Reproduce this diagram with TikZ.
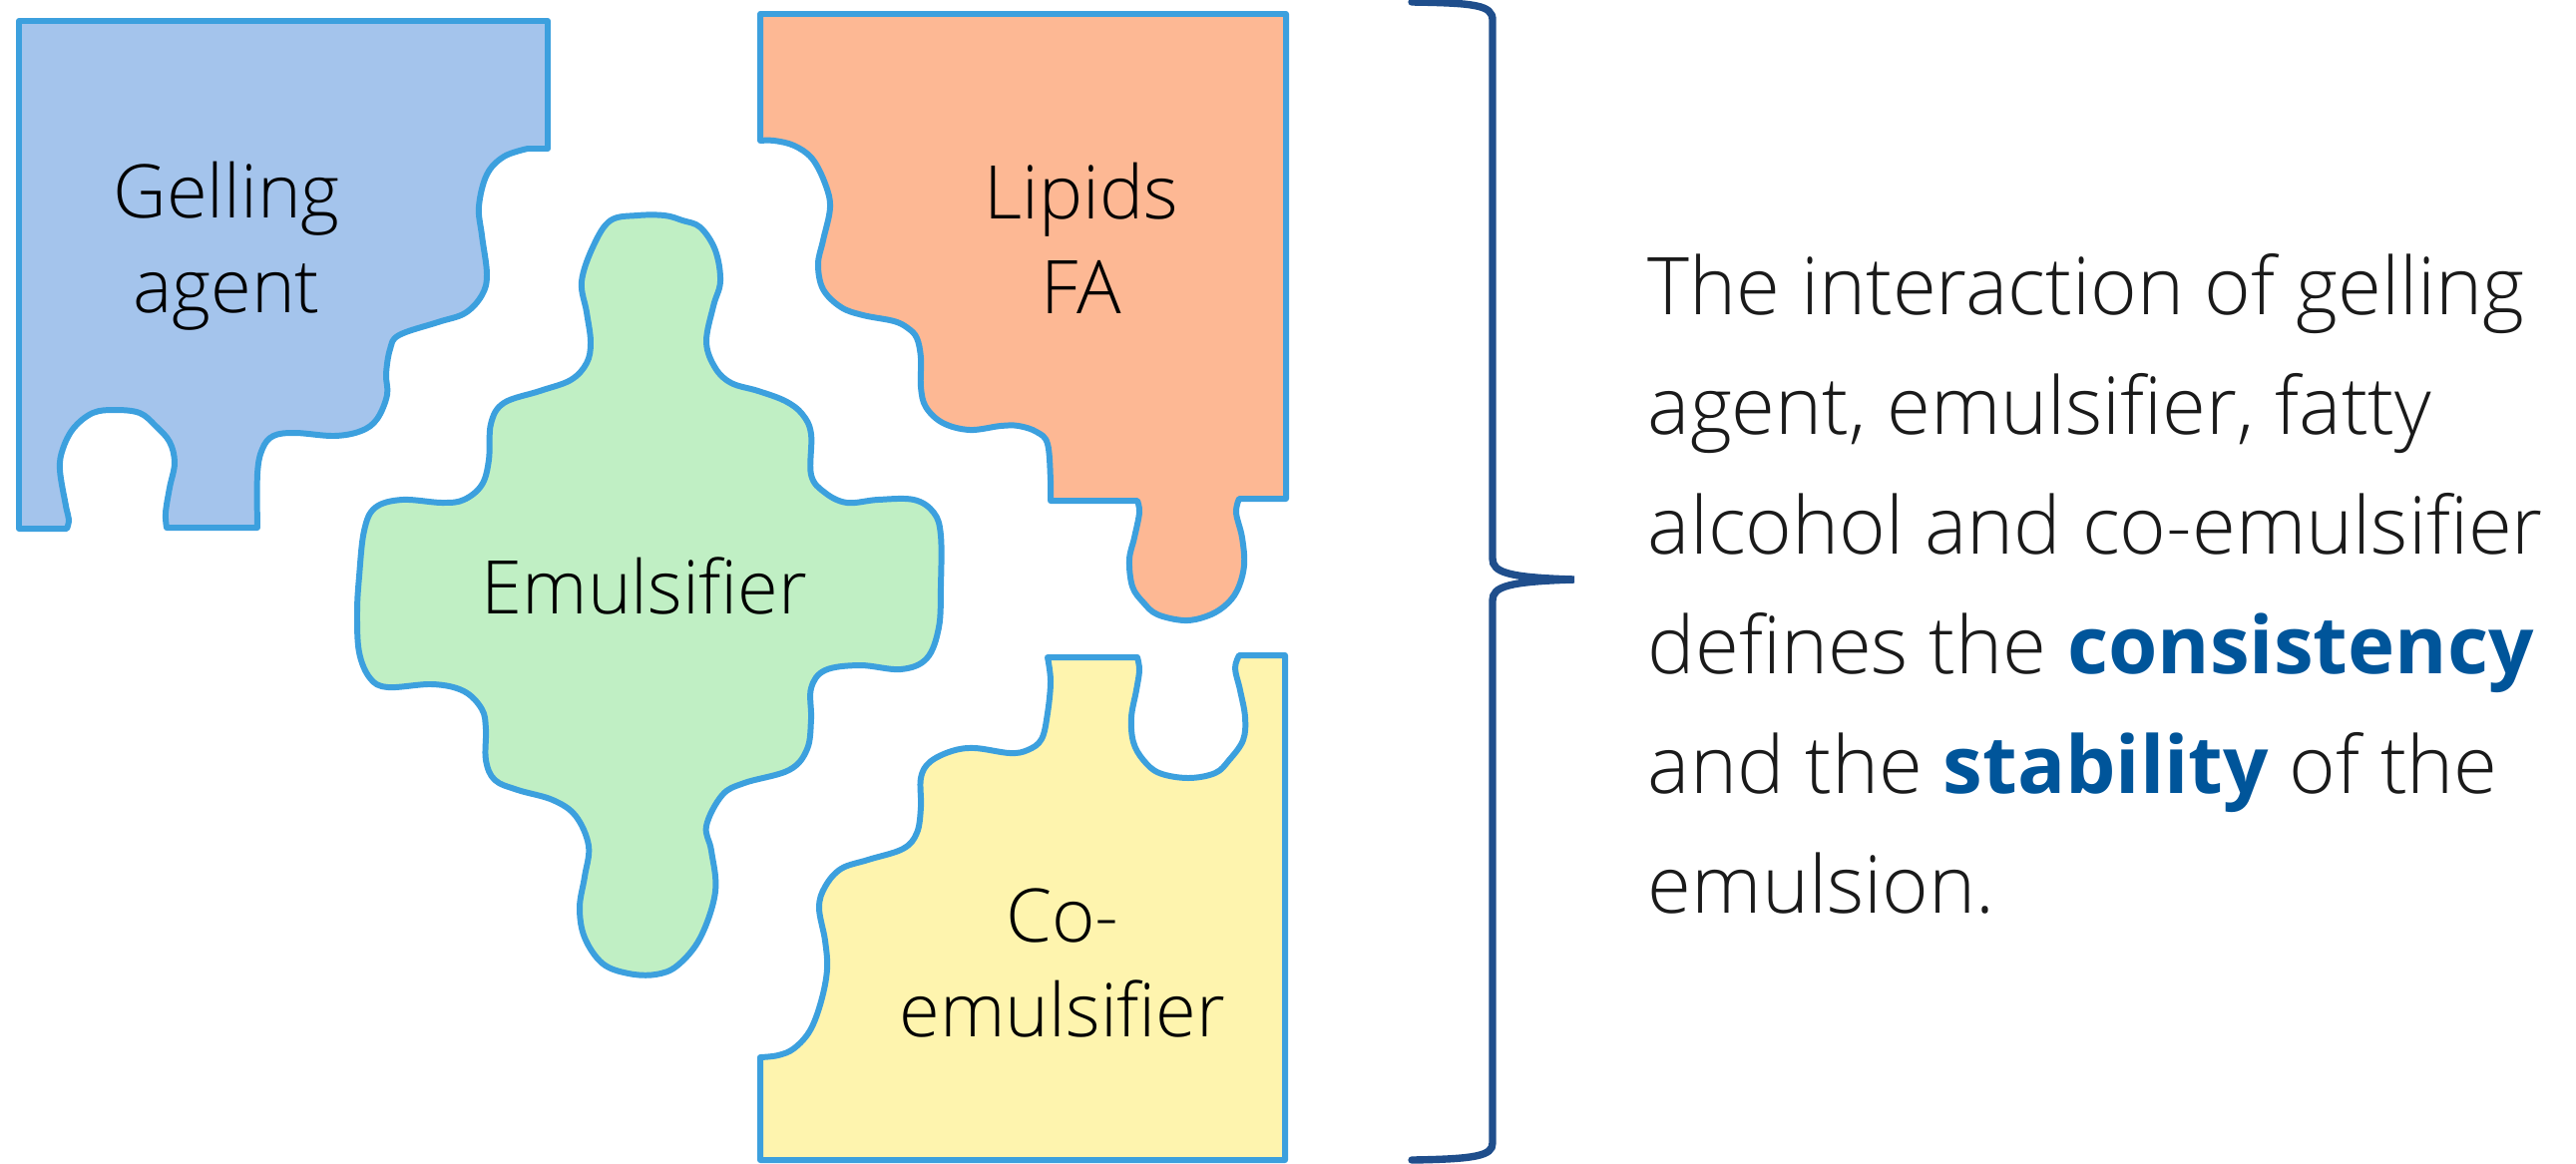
\documentclass[tikz,border=0pt]{standalone}
\usepackage{fontspec}
\IfFontExistsTF{Open Sans Light}
  {\IfFontExistsTF{Open Sans SemiBold}
     {\setmainfont{Open Sans Light}[BoldFont={Open Sans SemiBold}]}
     {\IfFontExistsTF{Open Sans Bold}
        {\setmainfont{Open Sans Light}[BoldFont={Open Sans Bold}]}
        {\setmainfont{Open Sans Light}[BoldFont={Open Sans}, BoldFeatures={FakeBold=2.5}]}}
   \newcommand{\textsize}{22.7}}
  {\setmainfont{Open Sans}
   \newcommand{\textsize}{21.9}}
\usepackage{tikz}

\definecolor{gelfill}{HTML}{A4C4EC}
\definecolor{lipfill}{HTML}{FDB894}
\definecolor{emufill}{HTML}{C0EFC4}
\definecolor{cofill}{HTML}{FEF4AE}
\definecolor{pieceline}{HTML}{3CA0DE}
\definecolor{bracecol}{HTML}{1F4E8C}
\definecolor{keyword}{HTML}{00559A}
\definecolor{bodytext}{HTML}{1A1A1A}

\begin{document}
\begin{tikzpicture}
  [x=0.01cm, y=-0.01cm,
   piece/.style={draw=pieceline, line width=1.7pt, line join=round},
   piecetext/.style={font=\fontsize{21.1}{27}\selectfont, align=center, inner sep=0pt},
   brace line/.style={draw=bracecol, line width=2.1pt, line cap=round}]
  \useasboundingbox (0,0) rectangle (2582,1166);
  % gelling agent
  \draw[piece, fill=gelfill] (19,21) -- (549,21) -- (549,149) -- (529,149)
    -- plot[smooth, tension=0.6] coordinates {(529,149) (505,157) (488,175) (480,207) (483,236) (488,275) (483,296) (466,314) (439,323) (400,336) (391,350) (387,375) (388,396) (378,420) (362,432) (335,437) (296,434) (274,437) (263,450) (258,475) (258,529)}
    -- (167,529)
    -- plot[smooth, tension=0.6] coordinates {(167,529) (166,514) (170,489) (175,464) (170,443) (156,427) (140,414) (115,411) (93,414) (74,429) (63,450) (60,471) (66,507) (69,521) (67,530)}
    -- (19,530) -- cycle;
  % lipids
  \draw[piece, fill=lipfill] (762,14) -- (1289,14) -- (1289,500) -- (1242,500)
    -- plot[smooth, tension=0.6] coordinates {(1242,500) (1239,514) (1245,539) (1247,567) (1240,592) (1227,608) (1209,618) (1187,622) (1160,616) (1146,604) (1135,588) (1132,561) (1137,539) (1142,514) (1140,502)}
    -- (1053,502)
    -- plot[smooth, tension=0.6] coordinates {(1053,502) (1053,482) (1050,445) (1039,433) (1021,427) (1003,427) (972,431) (945,424) (928,408) (923,388) (923,359) (919,339) (910,329) (896,322) (865,316) (843,308) (825,290) (820,265) (825,241) (832,208) (827,184) (814,159) (796,146) (776,141) (762,141)}
    -- cycle;
  % co-emulsifier
  \draw[piece, fill=cofill] (1050,659) -- (1140,659)
    -- plot[smooth, tension=0.6] coordinates {(1140,659) (1142,672) (1139,692) (1134,719) (1136,744) (1146,762) (1162,775) (1191,780) (1218,775) (1232,762) (1246,742) (1248,719) (1243,692) (1238,670) (1242,657)}
    -- (1288,657) -- (1288,1163) -- (762,1163) -- (762,1060)
    -- plot[smooth, tension=0.6] coordinates {(762,1060) (780,1058) (796,1051) (812,1033) (823,1004) (829,972) (827,943) (821,910) (827,889) (843,871) (870,862) (905,851) (919,835) (923,809) (923,780) (932,764) (954,753) (977,750) (1012,755) (1030,752) (1044,741) (1050,715) (1053,683) (1050,659)}
    -- cycle;
  % emulsifier
  \draw[piece, fill=emufill] plot[smooth cycle, tension=0.6] coordinates {
    (639,216) (666,216) (684,221) (702,228) (717,251) (722,282) (715,307) (708,343)
    (717,369) (733,384) (760,392) (787,402) (804,415) (813,435) (813,476) (827,494)
    (849,504) (880,501) (916,501) (936,514) (943,537) (943,588) (941,629) (929,660)
    (903,671) (862,667) (827,672) (813,690) (813,721) (809,751) (791,772) (746,785)
    (724,797) (708,828) (713,853) (717,894) (702,940) (679,968) (657,977) (630,976)
    (604,966) (586,940) (581,910) (586,879) (590,848) (577,818) (554,802) (519,792)
    (496,782) (487,762) (487,731) (483,711) (465,693) (434,686) (389,689) (371,680)
    (360,654) (358,614) (360,578) (365,532) (376,509) (403,501) (443,504) (465,501)
    (483,486) (490,461) (492,425) (505,404) (541,392) (572,381) (588,364) (592,343)
    (588,313) (583,282) (595,246) (612,221)};
  % labels
  \node[piecetext] (gelling) at (227,247) {Gelling\\agent};
  \node[piecetext] (lipids) at (1084,239) {Lipids\\FA};
  \node[piecetext, anchor=base] (emulsifier) at (646,615) {Emulsifier};
  \node[piecetext] (coemulsifier) at (1065,965) {Co-\\emulsifier};
  % brace
  \draw[brace line] (1415,2) .. controls (1478,3) and (1496,5) .. (1496,20) -- (1496,560)
    .. controls (1496,574) and (1512,579) .. (1578,581)
    .. controls (1512,583) and (1496,588) .. (1496,602) -- (1496,1146)
    .. controls (1496,1159) and (1478,1162) .. (1415,1163);
  \node[anchor=north west, align=left, inner sep=0pt, text=bodytext,
    font=\fontsize{\textsize}{34.1}\selectfont] (summary) at (1651,254)
    {The interaction of gelling\\agent, emulsifier, fatty\\alcohol and co-emulsifier\\defines the \textcolor{keyword}{\textbf{consistency}}\\and the \textcolor{keyword}{\textbf{stability}} of the\\emulsion.};
\end{tikzpicture}
\end{document}
